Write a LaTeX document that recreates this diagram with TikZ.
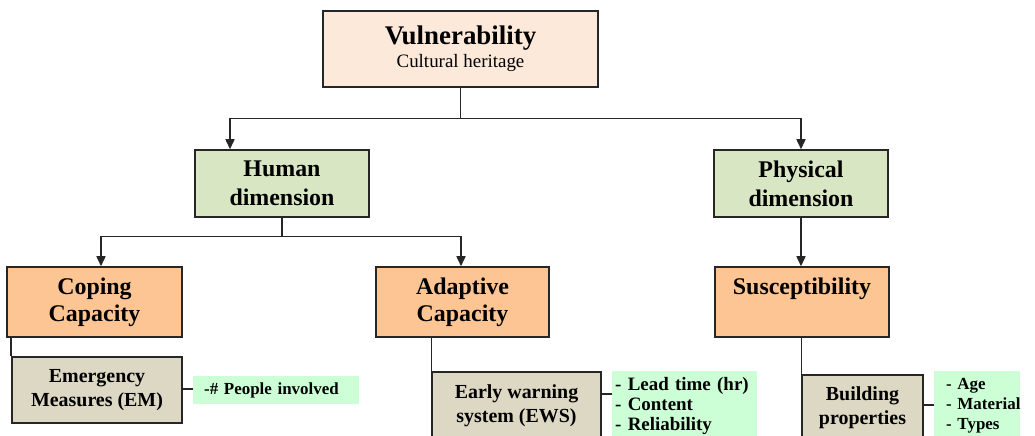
\documentclass[tikz,border=0pt]{standalone}
\usepackage{fontspec}
\setmainfont{Liberation Serif}
\usetikzlibrary{arrows.meta}

\definecolor{vulfill}{HTML}{FDE9DA}
\definecolor{dimfill}{HTML}{D9E6C3}
\definecolor{capfill}{HTML}{FCC593}
\definecolor{measfill}{HTML}{DDD8C3}
\definecolor{notefill}{HTML}{CCFFD5}

\begin{document}
\begin{tikzpicture}[x=1bp,y=-1bp,
  frame/.style={draw=black!85, line width=1.5bp, inner sep=0pt, align=center},
  topbox/.style={frame, fill=vulfill, minimum width=275bp, minimum height=76bp},
  dimbox/.style={frame, fill=dimfill, minimum width=174bp, minimum height=67bp,
                 font=\bfseries\fontsize{24}{29}\selectfont},
  capbox/.style={frame, fill=capfill, minimum height=70bp,
                 font=\bfseries\fontsize{24}{27}\selectfont},
  measbox/.style={frame, fill=measfill, font=\bfseries\fontsize{20}{24}\selectfont},
  notebox/.style={fill=notefill, inner sep=0pt, align=left, anchor=west},
  link/.style={line width=1.5bp, draw=black!85},
  arrow/.style={link, -{Triangle[length=10bp, width=9bp]}}
]
\useasboundingbox (0,0) rectangle (1035,436);
\clip (0,0) rectangle (1035,436);

% top level
\node[topbox] (vul) at (460.5,49)
  {{\bfseries\fontsize{27}{30}\selectfont Vulnerability}\\[3bp]
   {\fontsize{19}{22}\selectfont Cultural heritage}};

% dimensions
\node[dimbox] (human) at (282,183.5) {Human\\dimension};
\node[dimbox] (phys)  at (801,183.5) {Physical\\dimension};

% capacities
\node[capbox, minimum width=175bp] (coping) at (94.5,302)  {Coping\\Capacity};
\node[capbox, minimum width=173bp] (adapt)  at (462.5,302) {Adaptive\\Capacity};
\node[capbox, minimum width=174bp] (susc)   at (802,302)   {Susceptibility\\\phantom{Capacity}};

% measures
\node[measbox, minimum width=170bp, minimum height=66bp] (em)  at (97,390)    {Emergency\\Measures (EM)};
\node[measbox, minimum width=169bp, minimum height=68bp] (ews) at (516.5,406) {Early warning\\system (EWS)};
\node[measbox, minimum width=121bp, minimum height=65bp] (bld) at (862.5,407.5){Building\\properties};

% indicators
\node[notebox, minimum width=166bp, minimum height=28bp, text width=166bp,
      font=\bfseries\fontsize{17}{19}\selectfont] (emnote) at (193,390)
  {\hspace*{11bp}\mbox{-\# People involved}};
\node[notebox, minimum width=145bp, minimum height=70bp, text width=145bp,
      font=\bfseries\fontsize{19}{20}\selectfont] (ewsnote) at (612,406)
  {\hspace*{3bp}\mbox{- Lead time (hr)}\\
   \hspace*{3bp}\mbox{- Content}\\
   \hspace*{3bp}\mbox{- Reliability}};
\node[notebox, minimum width=86bp, minimum height=70bp, text width=86bp,
      font=\bfseries\fontsize{17}{20}\selectfont] (bldnote) at (934,406)
  {\hspace*{12bp}\mbox{- Age}\\
   \hspace*{12bp}\mbox{- Material}\\
   \hspace*{12bp}\mbox{- Types}};

% connectors: vulnerability to dimensions
\draw[link] (vul.south) -- ++(0,31) coordinate (vj);
\draw[arrow] (vj) -| ([xshift=-52bp]human.north);
\draw[arrow] (vj) -| (phys.north);

% human dimension to capacities
\draw[link] (human.south) -- ++(0,19) coordinate (hj);
\draw[arrow] (hj) -| ([xshift=6.5bp]coping.north);
\draw[arrow] (hj) -| ([xshift=-1.5bp]adapt.north);

% physical dimension to susceptibility
\draw[arrow] (phys.south) -- (phys.south |- susc.north);

% capacities to measures
\draw[link] (em.north west)  -- (em.north west |- coping.south);
\draw[link] (ews.north west) -- (ews.north west |- adapt.south);
\draw[link] (bld.north west) -- (bld.north west |- susc.south);

% measures to indicators
\draw[link] ([yshift=1bp]em.east) -- ([yshift=1bp]em.east -| emnote.west);
\draw[link] ([yshift=12bp]ews.east) -- ([yshift=12bp]ews.east -| ewsnote.west);
\draw[link] ([yshift=2.5bp]bld.east) -- ([yshift=2.5bp]bld.east -| bldnote.west);
\end{tikzpicture}
\end{document}
